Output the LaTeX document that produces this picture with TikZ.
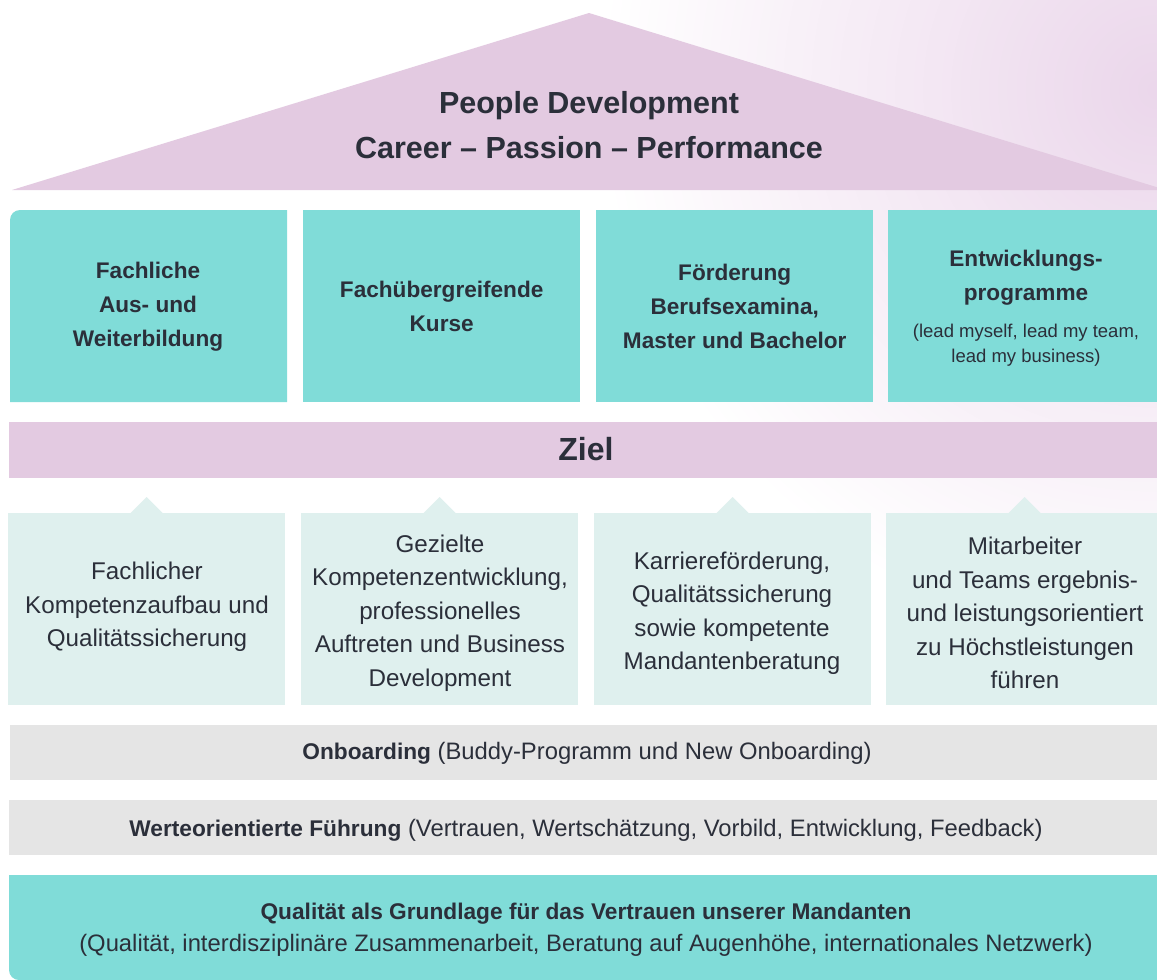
\documentclass[tikz,border=0pt]{standalone}
\usepackage{fontspec}
\setmainfont{Liberation Sans}
\definecolor{pinkc}{HTML}{E3CAE1}
\definecolor{tealc}{HTML}{80DCD8}
\definecolor{lightc}{HTML}{DFF0EE}
\definecolor{greyc}{HTML}{E5E5E5}
\definecolor{textc}{HTML}{2B2F3A}
\definecolor{glow}{HTML}{EBD7EB}
\newcommand\barboldfont{\fontsize{22.7}{32}\selectfont\bfseries}
\tikzset{
  txt/.style={text=textc, align=center, inner sep=0pt},
  boldtxt/.style={txt, font=\fontsize{22.6}{34}\selectfont\bfseries},
  lighttxt/.style={txt, font=\fontsize{24.2}{33.5}\selectfont},
  bartxt/.style={txt, font=\fontsize{23.8}{32}\selectfont},
  lightbox/.style={fill=lightc, inner sep=0pt, minimum width=277pt, minimum height=192pt, anchor=north west},
  tealbox/.style={fill=tealc, inner sep=0pt, minimum width=277pt, minimum height=192pt, anchor=north west},
  bar/.style={inner sep=0pt, minimum width=1160pt, anchor=north west},
}
\begin{document}
\begin{tikzpicture}[x=1pt,y=1pt]
\useasboundingbox (0,0) rectangle (1157,-980);
\clip (0,0) rectangle (1157,-980);
% background glow
\fill[white] (0,0) rectangle (1157,-980);
\foreach \i in {1,...,60}{
  \pgfmathsetmacro\r{9.3333*(61-\i)}
  \pgfmathsetmacro\p{(\i-1)*1.69492}
  \fill[glow!\p!white] (1157,-90) circle (\r);
}
% roof
\fill[pinkc] (12,-190) -- (589,-13) -- (1166,-190) -- cycle;
\node[txt, font=\fontsize{30.5}{45}\selectfont\bfseries] (title) at (589,-125) {People Development\\Career -- Passion -- Performance};
% teal boxes
\fill[tealc] (10,-402) -- (10,-220) arc[start angle=180,end angle=90,radius=10] -- (287,-210) -- (287,-402) -- cycle;
\node[boldtxt] (t1) at (148,-307) {Fachliche\\Aus- und\\Weiterbildung};
\node[tealbox] (b2) at (303,-210) {};
\node[boldtxt] (t2) at (b2.center) {Fachübergreifende\\Kurse};
\node[tealbox] (b3) at (596,-210) {};
\node[boldtxt] (t3) at (b3.center) {Förderung\\Berufsexamina,\\Master und Bachelor};
\node[tealbox] (b4) at (888,-210) {};
\node[boldtxt, anchor=north] (t4a) at (1026,-250) {Entwicklungs-\\programme};
\node[txt, font=\fontsize{18.5}{25}\selectfont, anchor=north] (t4b) at (1026,-324) {(lead myself, lead my team,\\lead my business)};
% Ziel
\node[bar, fill=pinkc, minimum height=56pt] (ziel) at (9,-422) {};
\node[txt, font=\fontsize{32}{38}\selectfont\bfseries] (zieltxt) at (586,-449) {Ziel};
% light boxes
\foreach \x/\n in {8/l1,301/l2,594/l3,886/l4}{
  \node[lightbox] (\n) at (\x,-513) {};
  \fill[lightc] ([xshift=-16pt]\n.north) -- ([yshift=16pt]\n.north) -- ([xshift=16pt]\n.north) -- cycle;
}
\node[lighttxt] (lt1) at (147,-607) {Fachlicher\\Kompetenzaufbau und\\Qualitätssicherung};
\node[lighttxt] (lt2) at (440,-613) {Gezielte\\Kompetenzentwicklung,\\professionelles\\Auftreten und Business\\Development};
\node[lighttxt] (lt3) at (732,-613) {Karriereförderung,\\Qualitätssicherung\\sowie kompetente\\Mandantenberatung};
\node[lighttxt] (lt4) at (1025,-613) {Mitarbeiter\\und Teams ergebnis-\\und leistungsorientiert\\zu Höchstleistungen\\führen};
% bars
\node[bar, fill=greyc, minimum height=55pt] (onb) at (10,-725) {};
\node[bartxt] (onbt) at (587,-753) {{\barboldfont Onboarding} (Buddy-Programm und New Onboarding)};
\node[bar, fill=greyc, minimum height=55pt] (wert) at (9,-800) {};
\node[bartxt] (wertt) at (586,-830) {{\barboldfont Werteorientierte Führung} (Vertrauen, Wertschätzung, Vorbild, Entwicklung, Feedback)};
\fill[tealc] (9,-875) -- (1157,-875) -- (1157,-980) -- (19,-980) arc[start angle=270,end angle=180,radius=10] -- cycle;
\node[bartxt] (qual) at (586,-930) {{\barboldfont Qualität als Grundlage für das Vertrauen unserer Mandanten}\\(Qualität, interdisziplinäre Zusammenarbeit, Beratung auf Augenhöhe, internationales Netzwerk)};
\end{tikzpicture}
\end{document}
